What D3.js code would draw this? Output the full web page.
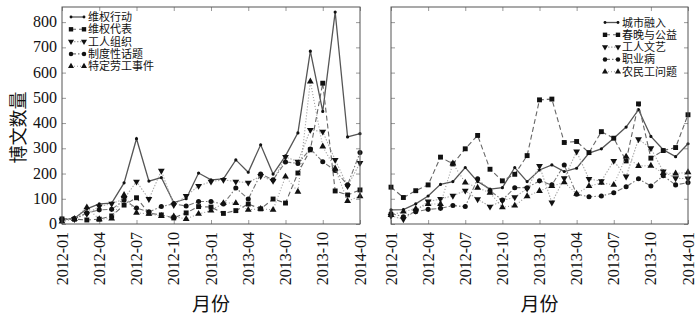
<!DOCTYPE html>
<html>
<head>
<meta charset="utf-8">
<script src="https://cdn.jsdelivr.net/npm/d3@7"></script>
<style>
  body { margin: 0; background: #fff; }
  text { font-family: "Liberation Serif", "Times New Roman", Tinos, "DejaVu Serif", "Noto Sans CJK SC", serif; }
</style>
</head>
<body>
<div id="chart"></div>
<script>
// months on the x axis
const months = [];
for (let yr = 2012; yr <= 2014; yr++) {
    for (let m = 1; m <= 12; m++) {
        if (yr === 2014 && m > 1) break;
        months.push(`${yr}-${String(m).padStart(2, "0")}`);
    }
}
const tickMonths = ["2012-01", "2012-04", "2012-07", "2012-10", "2013-01", "2013-04", "2013-07", "2013-10", "2014-01"];
const yTicks = [0, 100, 200, 300, 400, 500, 600, 700, 800];

// left panel
const leftNames = ["维权行动", "维权代表", "工人组织", "制度性话题", "特定劳工事件"];
const rightsAction = [16, 22, 60, 80, 83, 163, 338, 170, 184, 85, 100, 202, 175, 179, 254, 205, 314, 198, 270, 361, 685, 446, 840, 345, 358];
const rightsRep = [20, 19, 16, 19, 32, 75, 104, 43, 36, 24, 44, 69, 67, 42, 53, 79, 60, 99, 83, 202, 294, 558, 131, 115, 135];
const workerOrg = [15, 20, 40, 70, 80, 100, 168, 99, 211, 75, 111, 151, 168, 175, 168, 164, 190, 171, 266, 247, 373, 366, 254, 150, 242];
const systemTopic = [20, 22, 44, 56, 58, 95, 63, 48, 69, 80, 71, 89, 89, 79, 143, 99, 198, 175, 246, 240, 297, 247, 212, 155, 283];
const laborEvent = [10, 20, 66, 19, 22, 115, 44, 40, 32, 30, 20, 40, 53, 83, 83, 56, 60, 56, 188, 128, 565, 307, 220, 91, 110];

// right panel
const rightNames = ["城市融入", "春晚与公益", "工人文艺", "职业病", "农民工问题"];
const urbanIntegration = [56, 57, 80, 111, 157, 168, 224, 168, 138, 144, 224, 168, 214, 234, 208, 221, 281, 298, 340, 384, 453, 347, 294, 267, 318];
const galaCharity = [146, 105, 132, 155, 265, 238, 298, 351, 217, 171, 197, 271, 492, 495, 323, 327, 283, 366, 340, 250, 476, 261, 291, 303, 433];
const workerArts = [32, 19, 53, 89, 99, 112, 132, 98, 69, 93, 106, 140, 230, 85, 181, 287, 178, 170, 250, 188, 336, 300, 208, 181, 180];
const occDisease = [42, 29, 49, 58, 62, 73, 69, 179, 132, 95, 144, 144, 171, 155, 234, 118, 108, 111, 124, 148, 179, 151, 191, 155, 164];
const migrantIssue = [36, 49, 60, 79, 79, 240, 164, 144, 124, 66, 73, 110, 131, 150, 165, 120, 150, 163, 155, 267, 230, 231, 202, 200, 205];

// line / marker styles per series slot
const styles = [
    { stroke: "#555", width: 1.3, dash: null, symbol: d3.symbolCircle, size: 8, rot: 0 },
    { stroke: "#666", width: 1.1, dash: "5,3", symbol: d3.symbolSquare, size: 24, rot: 0 },
    { stroke: "#aaa", width: 1.1, dash: "1.5,1.5", symbol: d3.symbolTriangle, size: 20, rot: 180 },
    { stroke: "#777", width: 1.1, dash: "5,2,1.5,2", symbol: d3.symbolCircle, size: 20, rot: 0 },
    { stroke: "#999", width: 1.1, dash: "1,2", symbol: d3.symbolTriangle, size: 20, rot: 0 }
];

const W = 700, H = 318;
const plotTop = 7, plotBottom = 224;

const svg = d3.select("#chart").append("svg")
    .attr("width", W)
    .attr("height", H);

const y = d3.scaleLinear().domain([0, 860]).range([plotBottom, plotTop]);

function drawPanel(x0, x1, names, series, legendX, legendY, showY) {
    const x = d3.scalePoint().domain(months).range([x0, x1]);
    const g = svg.append("g");

    // ticks on all four sides, pointing inward
    g.append("g").attr("transform", `translate(0,${plotBottom})`)
        .call(d3.axisBottom(x).tickValues(tickMonths).tickSize(-4).tickFormat(""))
        .call(a => a.select(".domain").remove())
        .call(a => a.selectAll("line").attr("stroke", "#999"));
    g.append("g").attr("transform", `translate(0,${plotTop})`)
        .call(d3.axisTop(x).tickValues(tickMonths).tickSize(-4).tickFormat(""))
        .call(a => a.select(".domain").remove())
        .call(a => a.selectAll("line").attr("stroke", "#999"));
    g.append("g").attr("transform", `translate(${x0},0)`)
        .call(d3.axisLeft(y).tickValues(yTicks).tickSize(-4).tickFormat(""))
        .call(a => a.select(".domain").remove())
        .call(a => a.selectAll("line").attr("stroke", "#999"));
    g.append("g").attr("transform", `translate(${x1},0)`)
        .call(d3.axisRight(y).tickValues(yTicks).tickSize(-4).tickFormat(""))
        .call(a => a.select(".domain").remove())
        .call(a => a.selectAll("line").attr("stroke", "#999"));

    // x tick labels, rotated
    g.selectAll(".xl").data(tickMonths).join("text")
        .attr("transform", d => `translate(${x(d) + 5.5},${plotBottom + 8}) rotate(-90)`)
        .attr("text-anchor", "end")
        .style("font-size", "16px")
        .attr("fill", "#111")
        .text(d => d);

    if (showY) {
        g.selectAll(".yl").data(yTicks).join("text")
            .attr("x", x0 - 5)
            .attr("y", d => y(d) + 5)
            .attr("text-anchor", "end")
            .style("font-size", "16px")
            .attr("fill", "#111")
            .text(d => d);
        g.append("text")
            .attr("transform", `translate(25,${(plotTop + plotBottom) / 2 + 12}) rotate(-90)`)
            .attr("text-anchor", "middle")
            .style("font-size", "18px")
            .attr("fill", "#111")
            .text("博文数量");
    }

    g.append("text")
        .attr("x", (x0 + x1) / 2)
        .attr("y", 311)
        .attr("text-anchor", "middle")
        .style("font-size", "19px")
        .attr("fill", "#111")
        .text("月份");

    // series
    series.forEach((vals, k) => {
        const s = styles[k];
        g.append("path")
            .datum(vals)
            .attr("fill", "none")
            .attr("stroke", s.stroke)
            .attr("stroke-width", s.width)
            .attr("stroke-dasharray", s.dash)
            .attr("d", d3.line().x((d, i) => x(months[i])).y(d => y(d)));
        g.selectAll(null).data(vals).join("path")
            .attr("transform", (d, i) => `translate(${x(months[i])},${y(d)}) rotate(${s.rot})`)
            .attr("d", d3.symbol().type(s.symbol).size(s.size))
            .attr("fill", "#111");
    });

    // frame
    g.append("rect")
        .attr("x", x0).attr("y", plotTop)
        .attr("width", x1 - x0).attr("height", plotBottom - plotTop)
        .attr("fill", "none")
        .attr("stroke", "#555")
        .attr("stroke-width", 1);

    // legend
    const lg = g.append("g");
    names.forEach((name, k) => {
        const s = styles[k];
        const ly = legendY + k * 12.3;
        lg.append("line")
            .attr("x1", legendX).attr("x2", legendX + 13)
            .attr("y1", ly).attr("y2", ly)
            .attr("stroke", s.stroke)
            .attr("stroke-width", s.width)
            .attr("stroke-dasharray", s.dash);
        [legendX, legendX + 13].forEach(px => {
            lg.append("path")
                .attr("transform", `translate(${px},${ly}) rotate(${s.rot})`)
                .attr("d", d3.symbol().type(s.symbol).size(s.size * 0.8))
                .attr("fill", "#111");
        });
        lg.append("text")
            .attr("x", legendX + 17)
            .attr("y", ly + 4)
            .style("font-size", "11px")
            .attr("fill", "#111")
            .text(name);
    });
}

drawPanel(62, 360, leftNames, [rightsAction, rightsRep, workerOrg, systemTopic, laborEvent], 71, 17, true);
drawPanel(391, 688, rightNames, [urbanIntegration, galaCharity, workerArts, occDisease, migrantIssue], 605, 22.5, false);
</script>
</body>
</html>
